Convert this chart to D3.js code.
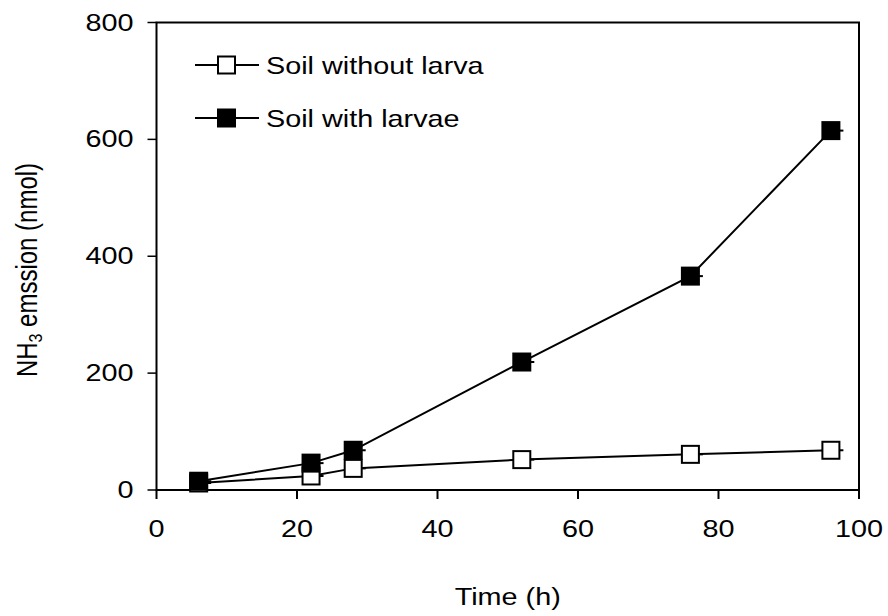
<!DOCTYPE html>
<html>
<head>
<meta charset="utf-8">
<script src="https://cdn.jsdelivr.net/npm/d3@7"></script>
<style>
    body { margin: 0; background: #fff; }
    svg text { font-family: "Liberation Sans", Arial, sans-serif; fill: #000; }
</style>
</head>
<body>
<svg width="888" height="616"></svg>
<script>
const hours = [6, 22, 28, 52, 76, 96];
const withoutLarva = [12, 24, 37, 52, 61, 68];
const withLarvae = [15, 46, 68, 219, 366, 615];
const xTicks = [0, 20, 40, 60, 80, 100];
const yTicks = [0, 200, 400, 600, 800];
const seriesNames = ["Soil without larva", "Soil with larvae"];

const svg = d3.select("svg");
const margin = { top: 22.5, right: 29, bottom: 126, left: 156.5 };
const width = 888 - margin.left - margin.right;
const height = 616 - margin.top - margin.bottom;

// text in the original is stretched sideways a bit
const stretch = 1.2;
const fontSize = 24;

const x = d3.scaleLinear().domain([0, 100]).range([0, width]);
const y = d3.scaleLinear().domain([0, 800]).range([height, 0]);

const g = svg.append("g").attr("transform", `translate(${margin.left},${margin.top})`);

// frame
g.append("rect")
    .attr("width", width)
    .attr("height", height)
    .attr("fill", "none")
    .attr("stroke", "#000")
    .attr("stroke-width", 2);

// y ticks
g.selectAll(".ytick")
    .data(yTicks)
    .enter()
    .append("line")
    .attr("x1", -9)
    .attr("x2", 0)
    .attr("y1", d => y(d))
    .attr("y2", d => y(d))
    .attr("stroke", "#000")
    .attr("stroke-width", 1.5);

g.selectAll(".ylab")
    .data(yTicks)
    .enter()
    .append("text")
    .attr("transform", d => `translate(-23,${y(d) + 8}) scale(${stretch},1)`)
    .attr("text-anchor", "end")
    .attr("font-size", fontSize)
    .text(d => d);

// x ticks
g.selectAll(".xtick")
    .data(xTicks)
    .enter()
    .append("line")
    .attr("x1", d => x(d))
    .attr("x2", d => x(d))
    .attr("y1", height)
    .attr("y2", height + 9)
    .attr("stroke", "#000")
    .attr("stroke-width", 2);

g.selectAll(".xlab")
    .data(xTicks)
    .enter()
    .append("text")
    .attr("transform", d => `translate(${x(d)},${height + 47}) scale(${stretch},1)`)
    .attr("text-anchor", "middle")
    .attr("font-size", fontSize)
    .text(d => d);

// axis titles
svg.append("text")
    .attr("transform", `translate(${margin.left + width / 2},605) scale(${stretch},1)`)
    .attr("text-anchor", "middle")
    .attr("font-size", fontSize)
    .text("Time (h)");

const yTitle = svg.append("text")
    .attr("transform", `translate(37,270) scale(${stretch},1) rotate(-90)`)
    .attr("text-anchor", "middle")
    .attr("font-size", fontSize);
yTitle.append("tspan").text("NH");
yTitle.append("tspan").attr("font-size", 16).attr("dy", 4).text("3");
yTitle.append("tspan").attr("dy", -4).text(" emssion (nmol)");

const series = [
    { name: seriesNames[0], values: withoutLarva, fill: "#fff" },
    { name: seriesNames[1], values: withLarvae, fill: "#000" },
];

const line = d3.line().x(d => x(d[0])).y(d => y(d[1]));
const size = 17;

series.forEach(s => {
    const pts = hours.map((h, i) => [h, s.values[i]]);
    g.append("path")
        .datum(pts)
        .attr("d", line)
        .attr("fill", "none")
        .attr("stroke", "#000")
        .attr("stroke-width", 2);

    // short stubs peeking out right of each marker
    g.selectAll(null)
        .data(pts)
        .enter()
        .append("line")
        .attr("x1", d => x(d[0]))
        .attr("x2", d => x(d[0]) + size / 2 + 4)
        .attr("y1", d => y(d[1]))
        .attr("y2", d => y(d[1]))
        .attr("stroke", "#000")
        .attr("stroke-width", 2);

    g.selectAll(null)
        .data(pts)
        .enter()
        .append("rect")
        .attr("x", d => x(d[0]) - size / 2)
        .attr("y", d => y(d[1]) - size / 2)
        .attr("width", size)
        .attr("height", size)
        .attr("fill", s.fill)
        .attr("stroke", "#000")
        .attr("stroke-width", 2);
});

// legend
const legend = svg.append("g");
series.forEach((s, i) => {
    const cy = 65 + i * 53;
    legend.append("line")
        .attr("x1", 195)
        .attr("x2", 259)
        .attr("y1", cy)
        .attr("y2", cy)
        .attr("stroke", "#000")
        .attr("stroke-width", 2);
    legend.append("rect")
        .attr("x", 226.5 - size / 2)
        .attr("y", cy - size / 2)
        .attr("width", size)
        .attr("height", size)
        .attr("fill", s.fill)
        .attr("stroke", "#000")
        .attr("stroke-width", 2);
    legend.append("text")
        .attr("transform", `translate(266,${cy + 8.5}) scale(${stretch},1)`)
        .attr("font-size", fontSize)
        .text(s.name);
});
</script>
</body>
</html>
